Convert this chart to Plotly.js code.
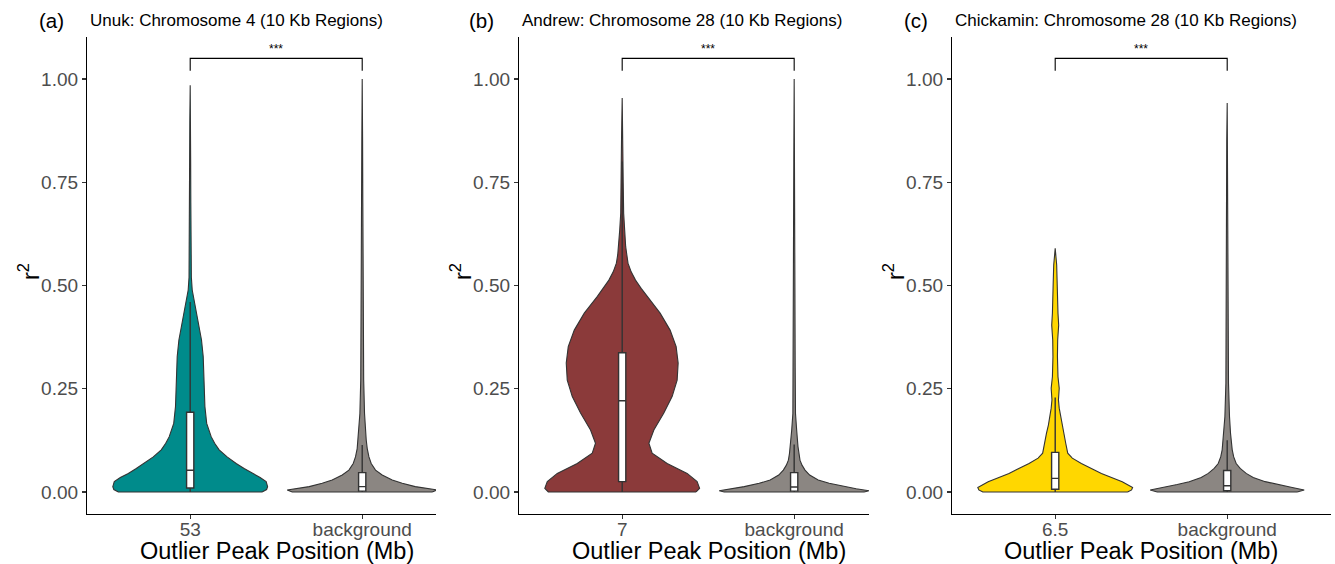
<!DOCTYPE html>
<html>
<head>
<meta charset="utf-8">
<script src="https://cdn.plot.ly/plotly-3.0.1.min.js"></script>
<style>html,body{margin:0;padding:0;background:#fff}#chart{width:1335px;height:564px}</style>
</head>
<body>
<div id="chart"></div>
<script>
// ---------- data ----------
const panelLabels = ['(a)', '(b)', '(c)'];
const panelTitles = ['Unuk: Chromosome 4 (10 Kb Regions)', 'Andrew: Chromosome 28 (10 Kb Regions)', 'Chickamin: Chromosome 28 (10 Kb Regions)'];
const categoriesA = ['53', 'background'];
const categoriesB = ['7', 'background'];
const categoriesC = ['6.5', 'background'];
const yTickVals = [0, 0.25, 0.5, 0.75, 1];
const yTickText = ['0.00', '0.25', '0.50', '0.75', '1.00'];
const xTitle = 'Outlier Peak Position (Mb)';
const yTitle = 'r<sup>2</sup>';
const sigLabel = '***';

// violin density profiles: r² level and relative half-width (max = 1)
const unukPeakY = [0, 0.006, 0.013, 0.025, 0.035, 0.045, 0.057, 0.069, 0.085, 0.102, 0.118, 0.134, 0.166, 0.207, 0.247, 0.287, 0.328, 0.368, 0.408, 0.435, 0.457, 0.475, 0.489, 0.52, 0.56, 0.62, 0.7, 0.8, 0.9, 0.985];
const unukPeakW = [0.929, 0.987, 1, 0.981, 0.903, 0.8, 0.697, 0.594, 0.477, 0.374, 0.316, 0.271, 0.213, 0.19, 0.181, 0.177, 0.168, 0.146, 0.107, 0.081, 0.058, 0.039, 0.026, 0.015, 0.012, 0.009, 0.008, 0.006, 0.005, 0];
const unukBgY = [0, 0.005, 0.013, 0.021, 0.029, 0.041, 0.053, 0.069, 0.085, 0.105, 0.126, 0.19, 0.271, 0.4, 0.55, 0.7, 0.85, 1.0];
const unukBgW = [0.904, 0.969, 0.685, 0.517, 0.388, 0.258, 0.172, 0.116, 0.087, 0.065, 0.052, 0.03, 0.019, 0.013, 0.01, 0.008, 0.005, 0];

const andrewPeakY = [0, 0.009, 0.025, 0.045, 0.069, 0.094, 0.118, 0.150, 0.191, 0.231, 0.271, 0.312, 0.352, 0.392, 0.433, 0.473, 0.493, 0.513, 0.533, 0.554, 0.574, 0.594, 0.634, 0.675, 0.75, 0.85, 0.954];
const andrewPeakW = [0.955, 1, 0.968, 0.839, 0.581, 0.387, 0.345, 0.409, 0.538, 0.645, 0.71, 0.723, 0.697, 0.619, 0.49, 0.323, 0.245, 0.172, 0.116, 0.075, 0.058, 0.045, 0.032, 0.019, 0.013, 0.009, 0];
const andrewBgY = [0, 0.003, 0.008, 0.013, 0.021, 0.029, 0.041, 0.053, 0.065, 0.077, 0.093, 0.11, 0.15, 0.19, 0.3, 0.45, 0.6, 0.8, 1.0];
const andrewBgW = [0.904, 0.969, 0.801, 0.646, 0.452, 0.31, 0.2, 0.14, 0.101, 0.075, 0.061, 0.049, 0.032, 0.017, 0.013, 0.01, 0.008, 0.005, 0];

const chickPeakY = [0, 0.005, 0.011, 0.025, 0.045, 0.069, 0.082, 0.094, 0.118, 0.142, 0.162, 0.182, 0.203, 0.223, 0.251, 0.279, 0.305, 0.328, 0.368, 0.404, 0.433, 0.465, 0.505, 0.55, 0.59];
const chickPeakW = [0.935, 0.987, 1, 0.866, 0.597, 0.338, 0.221, 0.162, 0.136, 0.113, 0.088, 0.068, 0.052, 0.042, 0.052, 0.036, 0.03, 0.029, 0.032, 0.045, 0.036, 0.029, 0.026, 0.019, 0];
const chickBgY = [0, 0.005, 0.011, 0.018, 0.025, 0.035, 0.045, 0.057, 0.069, 0.085, 0.102, 0.142, 0.182, 0.263, 0.384, 0.55, 0.707, 0.85, 0.942];
const chickBgW = [0.904, 0.995, 0.84, 0.646, 0.491, 0.336, 0.245, 0.168, 0.116, 0.084, 0.065, 0.043, 0.03, 0.017, 0.013, 0.01, 0.009, 0.006, 0];

// box-plot summaries [peak, background]: lower fence, q1, median, q3, upper fence
const unukLower = [0, 0], unukQ1 = [0.0097, 0.002], unukMedian = [0.0525, 0.013], unukQ3 = [0.193, 0.047], unukUpper = [0.46, 0.114];
const andrewLower = [0, 0], andrewQ1 = [0.025, 0.002], andrewMedian = [0.221, 0.012], andrewQ3 = [0.337, 0.047], andrewUpper = [0.80, 0.115];
const chickLower = [0, 0], chickQ1 = [0.0065, 0.003], chickMedian = [0.033, 0.015], chickQ3 = [0.096, 0.052], chickUpper = [0.229, 0.125];

// significance bracket
const bracketTop = 1.05, bracketTip = 1.02, sigY = 1.072;

// ---------- styling ----------
const peakColors = ['#008B8B', '#8B3A3A', '#FFD700'];
const bgColor = '#8B8682';
const outline = '#333333';
const FONT = 'Liberation Sans, Arial, Helvetica, sans-serif';
const W = 1335, H = 564;
const px = v => v / W, py = v => 1 - v / H;
const halfMax = 0.45;
const yRange = [-0.0533, 1.1017];
const yDomain = [50 / H, 527 / H];

const panels = [
  {cats: categoriesA, peak: [unukPeakY, unukPeakW], bg: [unukBgY, unukBgW], box: [unukLower, unukQ1, unukMedian, unukQ3, unukUpper], dom: [87, 436], xmax: 2.429, titleX: 277, labelX: 37},
  {cats: categoriesB, peak: [andrewPeakY, andrewPeakW], bg: [andrewBgY, andrewBgW], box: [andrewLower, andrewQ1, andrewMedian, andrewQ3, andrewUpper], dom: [519, 869], xmax: 2.435, titleX: 709, labelX: 467},
  {cats: categoriesC, peak: [chickPeakY, chickPeakW], bg: [chickBgY, chickBgW], box: [chickLower, chickQ1, chickMedian, chickQ3, chickUpper], dom: [952, 1331], xmax: 2.6035, titleX: 1141, labelX: 902}
];

function violin(center, ys, ws, color, xa, ya) {
  const x = [], y = [];
  for (let i = 0; i < ys.length; i++) { x.push(center + ws[i] * halfMax); y.push(ys[i]); }
  for (let i = ys.length - 1; i >= 0; i--) { x.push(center - ws[i] * halfMax); y.push(ys[i]); }
  x.push(x[0]); y.push(y[0]);
  return {type: 'scatter', mode: 'lines', x, y, fill: 'toself', fillcolor: color,
    line: {color: outline, width: 1.1}, xaxis: xa, yaxis: ya, hoverinfo: 'skip'};
}

const traces = [], annotations = [], shapes = [];
const layout = {
  width: W, height: H, margin: {l: 0, r: 0, t: 0, b: 0},
  paper_bgcolor: '#fff', plot_bgcolor: '#fff', showlegend: false,
  font: {family: FONT}
};

panels.forEach((p, i) => {
  const n = i === 0 ? '' : String(i + 1);
  const xa = 'x' + n, ya = 'y' + n;
  const on = String(i + 4);              // overlay axes so the boxes sit above the violins
  const xo = 'x' + on, yo = 'y' + on;
  traces.push(violin(1, p.peak[0], p.peak[1], peakColors[i], xa, ya));
  traces.push(violin(2, p.bg[0], p.bg[1], bgColor, xa, ya));
  traces.push({type: 'box', orientation: 'v', x: [1, 2], lowerfence: p.box[0], q1: p.box[1], median: p.box[2], q3: p.box[3], upperfence: p.box[4],
    width: 0.042, whiskerwidth: 0, fillcolor: '#ffffff', line: {color: outline, width: 1.4},
    boxpoints: false, xaxis: xo, yaxis: yo, hoverinfo: 'skip'});

  layout['xaxis' + n] = {domain: [px(p.dom[0]), px(p.dom[1])], range: [0.4, p.xmax], anchor: ya,
    tickvals: [1, 2], ticktext: p.cats, showline: true, linecolor: '#000', linewidth: 1.1,
    ticks: 'outside', ticklen: 4, tickwidth: 1.1, tickcolor: '#333', showgrid: false, zeroline: false,
    ticklabelstandoff: -6,
    tickfont: {size: 19, color: '#4D4D4D', family: FONT}, fixedrange: true};
  layout['yaxis' + n] = {domain: yDomain, range: yRange, anchor: xa,
    tickvals: yTickVals, ticktext: yTickText, showline: true, linecolor: '#000', linewidth: 1.1,
    ticks: 'outside', ticklen: 4, tickwidth: 1.1, tickcolor: '#333', showgrid: false, zeroline: false,
    tickfont: {size: 19, color: '#4D4D4D', family: FONT}, fixedrange: true};
  layout['xaxis' + on] = {overlaying: xa, range: [0.4, p.xmax], anchor: yo, visible: false, fixedrange: true};
  layout['yaxis' + on] = {overlaying: ya, range: yRange, anchor: xo, visible: false, fixedrange: true};

  // bracket
  shapes.push({type: 'path', xref: xa, yref: ya,
    path: `M 1,${bracketTip} L 1,${bracketTop} L 2,${bracketTop} L 2,${bracketTip}`,
    line: {color: '#000', width: 1.1}});
  annotations.push({xref: xa, yref: ya, x: 1.5, y: sigY, text: sigLabel, showarrow: false,
    font: {size: 12, color: '#000', family: FONT}, xanchor: 'center', yanchor: 'middle'});

  // panel label and title
  annotations.push({xref: 'paper', yref: 'paper', x: px(p.labelX), y: py(20), text: panelLabels[i], showarrow: false,
    xanchor: 'left', yanchor: 'middle', font: {size: 20.5, color: '#000', family: FONT}});
  annotations.push({xref: 'paper', yref: 'paper', x: px(p.dom[0] + 1), y: py(20), text: panelTitles[i], showarrow: false,
    xanchor: 'left', yanchor: 'middle', font: {size: 17, color: '#000', family: FONT}});
  // axis titles
  annotations.push({xref: 'paper', yref: 'paper', x: px(p.titleX), y: py(551), text: xTitle, showarrow: false,
    xanchor: 'center', yanchor: 'middle', font: {size: 23.5, color: '#000', family: FONT}});
  annotations.push({xref: 'paper', yref: 'paper', x: px(p.dom[0] - 58), y: py(272), text: yTitle, showarrow: false,
    textangle: -90, xanchor: 'center', yanchor: 'middle', font: {size: 23.5, color: '#000', family: FONT}});
});

layout.annotations = annotations;
layout.shapes = shapes;
Plotly.newPlot('chart', traces, layout, {displayModeBar: false, staticPlot: true});
</script>
</body>
</html>
